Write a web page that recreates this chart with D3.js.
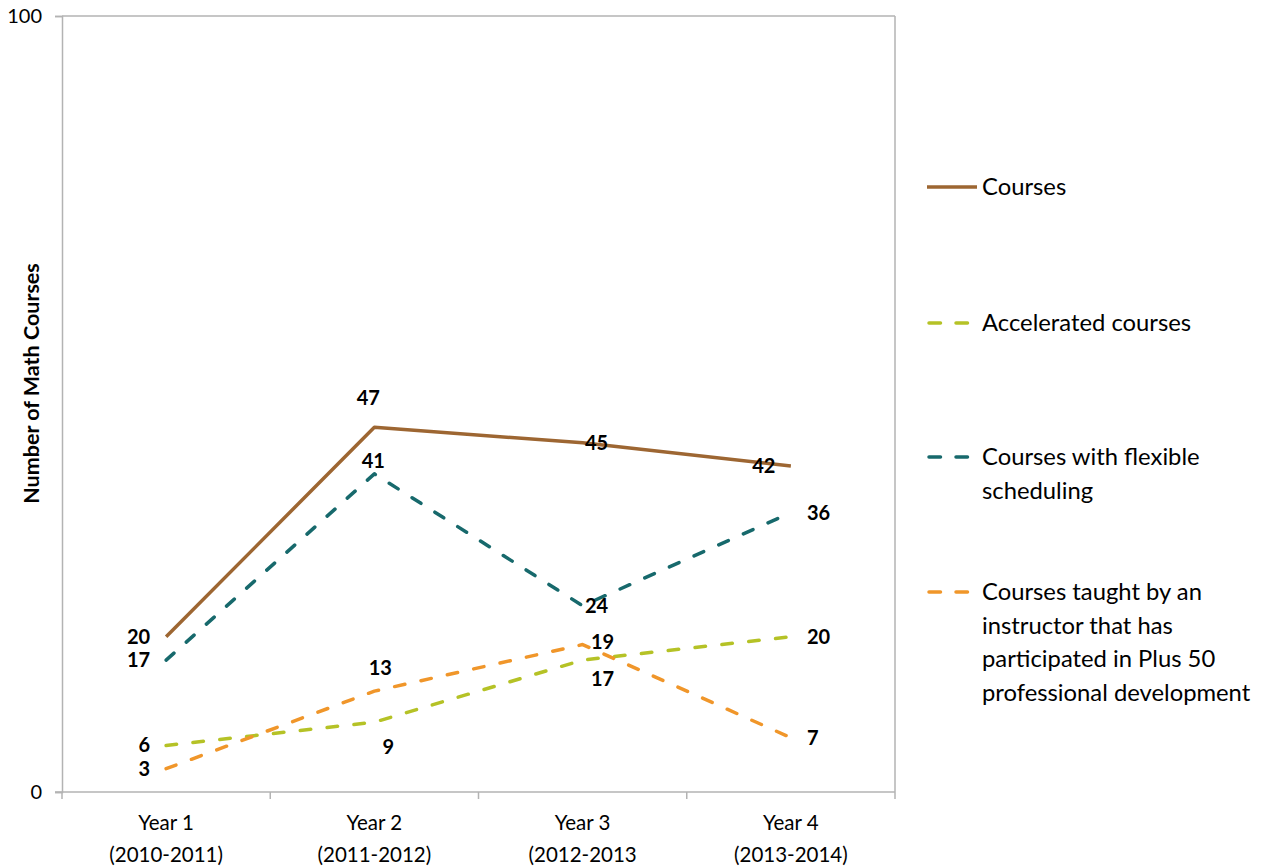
<!DOCTYPE html>
<html>
<head>
<meta charset="utf-8">
<script src="https://cdn.jsdelivr.net/npm/d3@7"></script>
<style>
  html, body { margin: 0; padding: 0; background: #fff; }
  svg text { font-family: Lato, "Open Sans", sans-serif; fill: #000; }
</style>
</head>
<body>
<svg id="chart" width="1266" height="867"></svg>
<script>
// Category labels (two lines each)
const yearLabels = ["Year 1", "Year 2", "Year 3", "Year 4"];
const periodLabels = ["(2010-2011)", "(2011-2012)", "(2012-2013", "(2013-2014)"];

// Series values
const courses      = [20, 47, 45, 42];
const accelerated  = [6, 9, 17, 20];
const flexible     = [17, 41, 24, 36];
const plus50       = [3, 13, 19, 7];

// Series names as shown in the legend (line-broken)
const seriesNames = [
  ["Courses"],
  ["Accelerated courses"],
  ["Courses with flexible", "scheduling"],
  ["Courses taught by an", "instructor that has", "participated in Plus 50", "professional development"]
];

// Y axis tick values
const yTicks = [0, 100];

// Label placement per point: [dx, dy, anchor]
const labelPlacement = [
  [[-16, 0, "end"], [-6, -29, "middle"], [14, 0, "middle"], [-27, 0, "middle"]],
  [[-16, 0, "end"], [14, 25, "middle"], [20, 19, "middle"], [16, 0, "start"]],
  [[-16, 0, "end"], [-1, -13, "middle"], [14, 0, "middle"], [16, 0, "start"]],
  [[-16, 0, "end"], [6, -23, "middle"], [20, -3, "middle"], [16, 0, "start"]]
];

const seriesValues = [courses, accelerated, flexible, plus50];
const colors = ["#9d6632", "#b5c226", "#17696c", "#f0962a"];
const dashed = [false, true, true, true];

const svg = d3.select("#chart");
const plot = { left: 62, right: 895, top: 16, bottom: 792 };

const x = d3.scaleBand()
  .domain(d3.range(yearLabels.length))
  .range([plot.left, plot.right])
  .paddingInner(0).paddingOuter(0);

const y = d3.scaleLinear().domain([0, 100]).range([plot.bottom, plot.top]);

const cx = i => x(i) + x.bandwidth() / 2;

const axisColor = "#b3b3b3";

// Plot area border (top and right)
svg.append("line")
  .attr("x1", plot.left).attr("x2", plot.right)
  .attr("y1", plot.top).attr("y2", plot.top)
  .attr("stroke", axisColor).attr("stroke-width", 1.5);
svg.append("line")
  .attr("x1", plot.right).attr("x2", plot.right)
  .attr("y1", plot.top).attr("y2", plot.bottom)
  .attr("stroke", axisColor).attr("stroke-width", 1.5);

// Y axis
const yAxis = d3.axisLeft(y).tickValues(yTicks).tickSize(7).tickPadding(13).tickFormat(d3.format("d"));
const gy = svg.append("g").attr("transform", `translate(${plot.left},0)`).call(yAxis);
gy.select(".domain").attr("stroke", axisColor).attr("stroke-width", 1.5);
gy.selectAll(".tick line").attr("stroke", axisColor).attr("stroke-width", 1.5);
gy.selectAll(".tick text").attr("font-size", 20).attr("font-family", null).attr("fill", "#000");

// X axis: ticks at band boundaries
const gx = svg.append("g").attr("transform", `translate(0,${plot.bottom})`);
gx.append("line")
  .attr("x1", plot.left - 7).attr("x2", plot.right)
  .attr("stroke", axisColor).attr("stroke-width", 1.5);
const boundaries = d3.range(yearLabels.length + 1).map(i =>
  i < yearLabels.length ? x(i) : x(i - 1) + x.bandwidth());
gx.selectAll("line.tick").data(boundaries).join("line")
  .attr("class", "tick")
  .attr("x1", d => d).attr("x2", d => d)
  .attr("y1", 0).attr("y2", 7)
  .attr("stroke", axisColor).attr("stroke-width", 1.5);
const catText = gx.selectAll("text.cat").data(yearLabels).join("text")
  .attr("class", "cat")
  .attr("text-anchor", "middle")
  .attr("font-size", 20.5)
  .attr("x", (d, i) => cx(i));
catText.append("tspan").attr("x", (d, i) => cx(i)).attr("y", 38).text(d => d);
catText.append("tspan").attr("x", (d, i) => cx(i)).attr("y", 70).text((d, i) => periodLabels[i]);

// Y axis title
svg.append("text")
  .attr("transform", `translate(38.5,${(262 + 505) / 2}) rotate(-90)`)
  .attr("text-anchor", "middle")
  .attr("font-size", 21.5)
  .attr("font-weight", "bold")
  .text("Number of Math Courses");

// Lines
const line = d3.line().x((d, i) => cx(i)).y(d => y(d));
seriesValues.forEach((vals, s) => {
  svg.append("path")
    .datum(vals)
    .attr("d", line)
    .attr("fill", "none")
    .attr("stroke", colors[s])
    .attr("stroke-width", 3.5)
    .attr("stroke-linecap", dashed[s] ? "round" : "butt")
    .attr("stroke-linejoin", "round")
    .attr("stroke-dasharray", dashed[s] ? "10.5 16.5" : null);
});

// Data labels
seriesValues.forEach((vals, s) => {
  svg.append("g").selectAll("text").data(vals).join("text")
    .attr("x", (d, i) => cx(i) + labelPlacement[s][i][0])
    .attr("y", (d, i) => y(d) + labelPlacement[s][i][1])
    .attr("dy", "0.35em")
    .attr("text-anchor", (d, i) => labelPlacement[s][i][2])
    .attr("font-size", 20)
    .attr("font-weight", "bold")
    .text(d => d);
});

// Legend
const legendY = [187, 323, 457, 592];
const lineGap = 33.5;
const legend = svg.append("g");
seriesNames.forEach((lines, s) => {
  const g = legend.append("g").attr("transform", `translate(0,${legendY[s]})`);
  g.append("line")
    .attr("x1", dashed[s] ? 929 : 927).attr("x2", dashed[s] ? 973 : 977)
    .attr("y1", 0).attr("y2", 0)
    .attr("stroke", colors[s])
    .attr("stroke-width", 3.5)
    .attr("stroke-linecap", dashed[s] ? "round" : "butt")
    .attr("stroke-dasharray", dashed[s] ? "11.5 15.5" : null);
  const t = g.append("text").attr("font-size", 23.8);
  lines.forEach((ln, k) => {
    t.append("tspan").attr("x", 982).attr("y", k * lineGap).attr("dy", "0.35em").text(ln);
  });
});
</script>
</body>
</html>
